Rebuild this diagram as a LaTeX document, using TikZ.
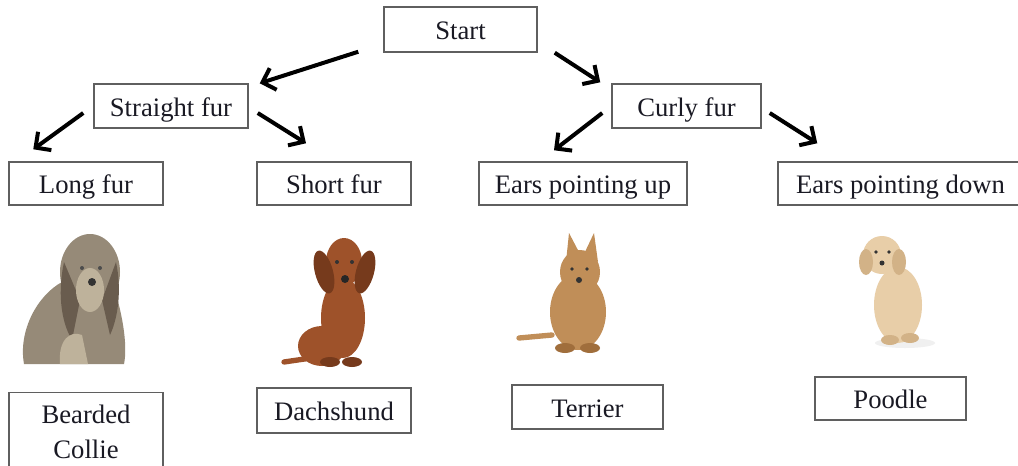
\documentclass[tikz,border=0pt]{standalone}
\usepackage{fontspec}
\setmainfont{Liberation Serif}
\usetikzlibrary{arrows.meta}
\definecolor{boxline}{RGB}{95,95,95}
\definecolor{txt}{RGB}{25,25,35}
\definecolor{collie}{RGB}{150,138,120}
\definecolor{collied}{RGB}{105,92,78}
\definecolor{colliel}{RGB}{190,178,155}
\definecolor{dachs}{RGB}{158,82,42}
\definecolor{dachsd}{RGB}{118,58,28}
\definecolor{terr}{RGB}{192,142,88}
\definecolor{terrd}{RGB}{160,110,60}
\definecolor{pood}{RGB}{232,206,168}
\definecolor{poodd}{RGB}{210,178,135}
\tikzset{
  box/.style={draw=boxline, line width=1.1pt, rectangle, inner sep=0pt,
    font=\fontsize{20}{24}\selectfont, text=txt, align=center,
    text height=15pt, text depth=0pt},
  arr/.style={-{Straight Barb[length=8.5pt,width=17pt]}, line width=3pt, black}
}
\begin{document}
\begin{tikzpicture}[x=0.75pt,y=-0.75pt]
\useasboundingbox (0,0) rectangle (1018,465);
\clip (0,0) rectangle (1018,465);
\fill[white] (0,0) rectangle (1018,465);

% boxes
\node[box, minimum width=153*0.75pt, minimum height=45*0.75pt] (start) at (460.5,29.5) {Start};
\node[box, minimum width=154*0.75pt, minimum height=44*0.75pt] (sf) at (171,106) {Straight fur};
\node[box, minimum width=149*0.75pt, minimum height=44*0.75pt] (cf) at (686.5,106) {Curly fur};
\node[box, minimum width=154*0.75pt, minimum height=43*0.75pt] (lf) at (86,183.5) {Long fur};
\node[box, minimum width=154*0.75pt, minimum height=43*0.75pt] (shf) at (334,183.5) {Short fur};
\node[box, minimum width=208*0.75pt, minimum height=43*0.75pt] (eu) at (583,183.5) {Ears pointing up};
\node[box, minimum width=245*0.75pt, minimum height=43*0.75pt] (ed) at (900.5,183.5) {Ears pointing down};
\node[box, minimum width=154*0.75pt, text height=, text depth=, inner ysep=9pt, anchor=north] (bc) at (86,392) {Bearded\\[2.5pt]Collie\\[6pt]\mbox{}};
\node[box, minimum width=154*0.75pt, minimum height=45*0.75pt] (da) at (334,410.5) {Dachshund};
\node[box, minimum width=151*0.75pt, minimum height=44*0.75pt] (te) at (587.5,407) {Terrier};
\node[box, minimum width=151*0.75pt, minimum height=43*0.75pt] (po) at (890.5,398.5) {Poodle};

% arrows
\draw[arr] ([shift={(-25,-1)}]start.south west) -- ([shift={(11,0)}]sf.north east);
\draw[arr] ([shift={(17,0)}]start.south east) -- ([shift={(-11,-1)}]cf.north west);
\draw[arr] ([shift={(-10,7)}]sf.west) -- ([shift={(25,-12)}]lf.north west);
\draw[arr] ([shift={(9,7)}]sf.east) -- ([shift={(-28,-18)}]shf.north);
\draw[arr] ([shift={(-9,7)}]cf.west) -- ([shift={(-29,-11)}]eu.north);
\draw[arr] ([shift={(8,7)}]cf.east) -- ([shift={(40,-18)}]ed.north west);

% Bearded collie
\fill[collie] (24,364) .. controls (18,330) and (38,295) .. (62,282)
  -- (112,282) .. controls (122,310) and (128,345) .. (124,364) -- cycle;
\fill[collie] (90,272) ellipse [x radius=30, y radius=38];
\fill[collied] (64,262) .. controls (58,290) and (60,320) .. (72,340) -- (80,300) -- cycle;
\fill[collied] (116,262) .. controls (122,290) and (118,318) .. (110,335) -- (102,300) -- cycle;
\fill[colliel] (90,290) ellipse [x radius=14, y radius=22];
\fill[colliel] (60,364) .. controls (58,340) and (70,330) .. (82,335) -- (88,364) -- cycle;
\fill[black!80] (92,282) circle [radius=4];
\fill[black!70] (82,268) circle [radius=2];
\fill[black!70] (100,268) circle [radius=2];

% Dachshund
\draw[dachs, line width=4pt, line cap=round] (284,362) -- (318,357);
\fill[dachs] (322,346) ellipse [x radius=24, y radius=20];
\fill[dachs] (343,318) ellipse [x radius=22, y radius=40];
\fill[dachsd] (330,362) ellipse [x radius=10, y radius=5];
\fill[dachsd] (352,362) ellipse [x radius=10, y radius=5];
\fill[dachs] (344,262) ellipse [x radius=18, y radius=24];
\fill[dachsd, rotate around={15:(324,272)}] (324,272) ellipse [x radius=9, y radius=22];
\fill[dachsd, rotate around={-15:(365,272)}] (365,272) ellipse [x radius=9, y radius=22];
\fill[black!85] (345,279) circle [radius=4];
\fill[black!80] (337,262) circle [radius=2];
\fill[black!80] (352,262) circle [radius=2];

% Terrier
\draw[terr, line width=4pt, line cap=round] (519,338) -- (552,335);
\fill[terr] (578,312) ellipse [x radius=28, y radius=38];
\fill[terrd] (565,348) ellipse [x radius=10, y radius=5];
\fill[terrd] (590,348) ellipse [x radius=10, y radius=5];
\fill[terr] (566,262) -- (569,233) -- (580,254) -- cycle;
\fill[terr] (584,254) -- (594,233) -- (598,262) -- cycle;
\fill[terr] (580,272) ellipse [x radius=20, y radius=22];
\fill[black!80] (579,280) circle [radius=3];
\fill[black!80] (572,269) circle [radius=1.8];
\fill[black!80] (587,269) circle [radius=1.8];

% Poodle
\fill[black!6] (905,343) ellipse [x radius=30, y radius=5];
\fill[pood] (898,305) ellipse [x radius=24, y radius=38];
\fill[poodd] (890,340) ellipse [x radius=9, y radius=5];
\fill[poodd] (910,338) ellipse [x radius=9, y radius=5];
\fill[pood] (882,255) circle [radius=19];
\fill[poodd] (866,262) ellipse [x radius=7, y radius=13];
\fill[poodd] (899,262) ellipse [x radius=7, y radius=13];
\fill[black!80] (882,263) circle [radius=2.5];
\fill[black!80] (876,252) circle [radius=1.8];
\fill[black!80] (889,252) circle [radius=1.8];
\end{tikzpicture}
\end{document}
